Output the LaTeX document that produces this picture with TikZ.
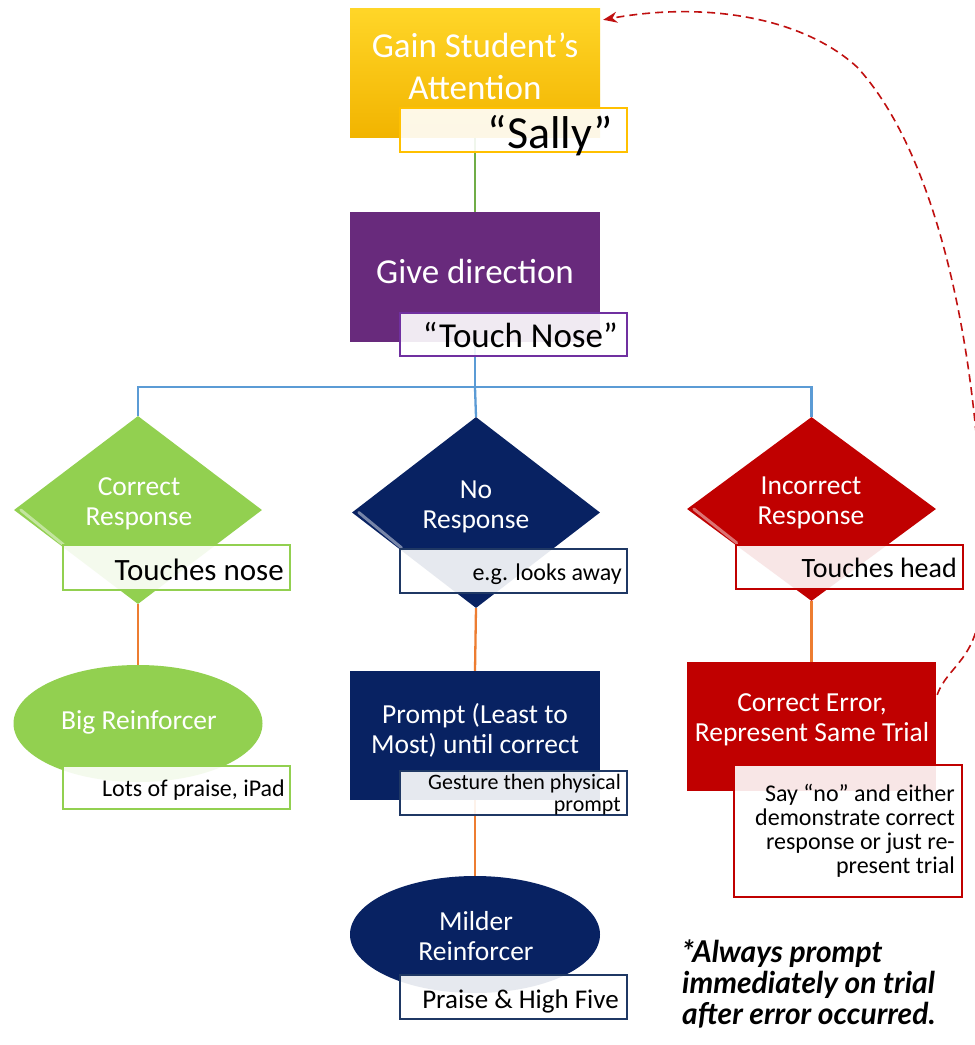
\documentclass[tikz,border=0pt]{standalone}
\usepackage{fontspec}
\setmainfont{Carlito}
\newfontfamily\notefont{Lato}
\usetikzlibrary{shapes.geometric,calc,arrows.meta}
\definecolor{yelTop}{RGB}{255,214,40}
\definecolor{yelBot}{RGB}{242,180,0}
\definecolor{yelLine}{RGB}{255,192,0}
\definecolor{cpurple}{RGB}{104,42,124}
\definecolor{purLine}{RGB}{112,48,160}
\definecolor{cnavy}{RGB}{8,34,98}
\definecolor{navLine}{RGB}{31,56,100}
\definecolor{cgreen}{RGB}{146,208,80}
\definecolor{cred}{RGB}{192,0,0}
\definecolor{lblue}{RGB}{91,155,213}
\definecolor{lgreen}{RGB}{112,173,71}
\definecolor{lorange}{RGB}{237,125,49}
\definecolor{dashred}{RGB}{192,16,16}
\pgfdeclarelayer{bg}
\pgfdeclarelayer{lines}
\pgfsetlayers{bg,lines,main}
\tikzset{
  rectbox/.style={rectangle, inner sep=0pt, minimum width=250pt, minimum height=129pt},
  diabox/.style={diamond, inner sep=0pt, minimum width=248pt, minimum height=188pt},
  ellbox/.style={ellipse, inner sep=0pt, minimum width=249pt, minimum height=117pt},
  lblbox/.style={rectangle, draw=#1, fill=white, fill opacity=0.9, line width=1.5pt,
     inner sep=0pt, minimum width=227pt, minimum height=44pt},
  wtxt/.style={text=white, align=center, inner sep=0pt},
  btxt/.style={text=black, align=right, inner sep=0pt},
  fbig/.style={font=\fontsize{35}{42}\selectfont},
  fmid/.style={font=\fontsize{27.5}{30}\selectfont},
  fsmall/.style={font=\fontsize{24}{24}\selectfont},
  conn/.style={line width=2.3pt},
  hilite/.style={white, line width=3pt, opacity=0.45, line cap=round},
}
\begin{document}
\begin{tikzpicture}[x=1pt,y=-1pt]
\useasboundingbox (0,0) rectangle (975,1045);
\begin{pgfonlayer}{bg}
\fill[white] (0,0) rectangle (975,1045);
\end{pgfonlayer}

% main shapes
\node[rectbox, top color=yelTop, bottom color=yelBot] (gain) at (475,72.5) {};
\node[rectbox, fill=cpurple, minimum height=130pt] (give) at (475,277) {};
\node[diabox, fill=cgreen] (cr) at (138,510) {};
\node[diabox, fill=cnavy, minimum height=191pt] (nr) at (476,512.5) {};
\node[diabox, fill=cred, minimum width=249pt, minimum height=184pt] (ir) at (811.5,509) {};
\node[ellbox, fill=cgreen] (big) at (138,723.5) {};
\node[rectbox, fill=cnavy] (prompt) at (475,735.5) {};
\node[ellbox, fill=cnavy, minimum width=250pt] (milder) at (475,934.5) {};
\node[rectbox, fill=cred, minimum width=249pt] (ce) at (811.5,726.5) {};

% bevel highlights
\draw[hilite] ($(cr.west)+(7,0)$) -- ($(cr.west)!0.4!(cr.south)+(0,-3)$);
\draw[hilite] ($(nr.west)+(7,0)$) -- ($(nr.west)!0.4!(nr.south)+(0,-3)$);
\draw[hilite] ($(ir.west)+(7,0)$) -- ($(ir.west)!0.4!(ir.south)+(0,-3)$);

% shape texts
\node[wtxt, fbig] (gaint) at (475,66) {Gain Student’s\\Attention};
\node[wtxt, fbig] (givet) at (475,271) {Give direction};
\node[wtxt, fmid] (crt) at (139,504) {Correct\\Response};
\node[wtxt, fmid] (nrt) at (476,507) {No\\Response};
\node[wtxt, fmid] (irt) at (811,503) {Incorrect\\Response};
\node[wtxt, fmid] (bigt) at (139,722) {Big Reinforcer};
\node[wtxt, fmid] (promptt) at (475,730) {Prompt (Least to\\Most) until correct};
\node[wtxt, fmid] (mildert) at (476,936) {Milder\\Reinforcer};
\node[wtxt, fmid] (cet) at (812,720) {Correct Error,\\Represent Same Trial};

% connectors
\coordinate (bus) at ($(give.south)+(0,45)$);
\begin{pgfonlayer}{lines}
\draw[conn, lgreen] (gain.south) -- (give.north);
\draw[conn, lblue] (give.south) -- (bus);
\draw[conn, lblue] (cr.north) |- (bus) -| (ir.north);
\draw[conn, lblue] (bus) -- (nr.north);
\draw[conn, lorange] (cr.south) -- (big.north);
\draw[conn, lorange] (nr.south) -- (prompt.north);
\draw[conn, lorange] (prompt.south) -- (milder.north);
\draw[conn, lorange] (ir.south) -- (ce.north);
\coordinate (dstart) at ($(ce.north east)+(1,33)$);
\coordinate (dend) at ($(gain.north east)+(3,12)$);
\draw[dashred, line width=1.6pt, dash pattern=on 8pt off 5pt,
      -{Stealth[length=14pt,width=11pt]}]
  (dstart) .. controls (948,665) and (978,660) .. (981,600)
  .. controls (988,420) and (952,170) .. (857,67)
  .. controls (800,15) and (700,2) .. (dend);
\end{pgfonlayer}

% label boxes
\node[lblbox=yelLine] (sally) at (513.5,130) {};
\node[lblbox=purLine, minimum height=43pt] (tnose) at (513.5,334.5) {};
\node[lblbox=cgreen, minimum height=45pt] (tn) at (176.5,567.5) {};
\node[lblbox=navLine] (eg) at (513.5,571) {};
\node[lblbox=cred] (th) at (849.5,567) {};
\node[lblbox=cgreen, minimum height=43pt] (lp) at (176.5,787.5) {};
\node[lblbox=navLine] (gp) at (513.5,793) {};
\node[lblbox=navLine] (ph) at (513.5,997) {};
\node[lblbox=cred, minimum width=228pt, minimum height=132pt] (sn) at (848,831) {};

% label texts
\node[btxt, anchor=base east, font=\fontsize{46}{50}\selectfont] (sallyt) at (613,148) {“Sally”};
\node[btxt, anchor=base east, fbig] (tnoset) at (618,347) {“Touch Nose”};
\node[btxt, anchor=base east, font=\fontsize{31}{34}\selectfont] (tnt) at (284,580) {Touches nose};
\node[btxt, anchor=base east, fsmall] (egt) at (622,580) {e.g. looks away};
\node[btxt, anchor=base east, font=\fontsize{28}{30}\selectfont] (tht) at (957,577) {Touches head};
\node[btxt, anchor=base east, fsmall] (lpt) at (285,796) {Lots of praise, iPad};
\node[btxt, anchor=east, font=\fontsize{22}{22}\selectfont] (gpt) at (621,795) {Gesture then physical\\prompt};
\node[btxt, anchor=base east, font=\fontsize{27}{30}\selectfont] (pht) at (619,1008) {Praise \& High Five};
\node[btxt, anchor=east, font=\fontsize{24}{24}\selectfont] (snt) at (955,831) {Say “no” and either\\demonstrate correct\\response or just re-\\present trial};

% note
\node[anchor=north west, align=left, inner sep=0pt,
      font=\notefont\bfseries\itshape\fontsize{30}{31}\selectfont] (note) at (682,940)
  {*Always prompt\\immediately on trial\\after error occurred.};
\end{tikzpicture}
\end{document}
